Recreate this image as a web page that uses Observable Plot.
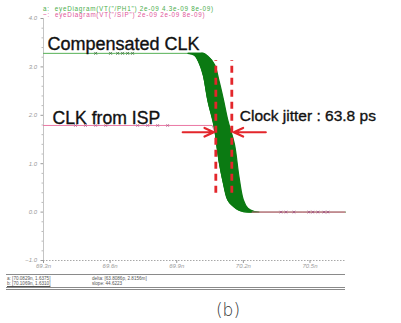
<!DOCTYPE html>
<html><head><meta charset="utf-8">
<script src="https://cdn.jsdelivr.net/npm/d3@7"></script>
<script src="https://cdn.jsdelivr.net/npm/@observablehq/plot@0.6"></script>
<style>
body{margin:0;background:#fff;font-family:"Liberation Sans",Arial,sans-serif;}
#wrap{position:relative;width:401px;height:323px;overflow:hidden;background:#fff;}
#chart{position:absolute;left:0;top:0;}
#legend{position:absolute;left:43px;top:6px;font-size:6.3px;letter-spacing:0.75px;line-height:6.2px;white-space:pre;}
#footer{position:absolute;left:6px;top:274px;width:339px;height:12px;border-top:1px solid #8a8a8a;border-bottom:3px double #8a8a8a;font-size:4.6px;line-height:5px;color:#555;}
#footer .c1{position:absolute;left:1px;width:58px;}
#footer .c2{position:absolute;left:86px;}
#cap{position:absolute;left:0;top:300px;width:456px;text-align:center;font-size:17px;color:#333;font-family:"DejaVu Sans","Liberation Sans",sans-serif;font-weight:300;}
</style></head>
<body>
<div id="wrap">
  <div id="chart"></div>
  <div id="legend"></div>
  <div id="footer"></div>
  <div id="cap"></div>
</div>
<script>
// ---- axis setup ----
const xDomain = [69.3, 70.66];
const yDomain = [-1, 4];
const xTicks = [69.3, 69.6, 69.9, 70.2, 70.5];
const xTickLabels = ["69.3n", "69.6n", "69.9n", "70.2n", "70.5n"];
const yTicks = [-1, 0, 1, 2, 3, 4];
const yTickLabels = ["\u22121.0", "0.0", "1.0", "2.0", "3.0", "4.0"];
const yMinorTicks = [-0.8,-0.6,-0.4,-0.2,0.2,0.4,0.6,0.8,1.2,1.4,1.6,1.8,2.2,2.4,2.6,2.8,3.2,3.4,3.6,3.8];

// ---- eye diagram band ----
const bandT     = [69.95, 69.98, 70.00, 70.02, 70.04, 70.07, 70.09, 70.11, 70.13, 70.16, 70.18, 70.20, 70.22, 70.25, 70.27];
const bandEarly = [3.28, 3.24, 3.09, 2.82, 2.31, 1.73, 1.07, 0.60, 0.25, 0.10, 0.04, 0.01, 0, 0, 0];
const bandLate  = [3.28, 3.28, 3.28, 3.28, 3.22, 3.05, 2.72, 2.33, 1.90, 1.40, 0.74, 0.25, 0.08, 0.01, 0];

// compensated CLK (green) flat level
const greenStartT = 69.3, greenEndT = 70.66;
const greenHigh = 3.28, greenLow = 0;
const greenMarkT = [69.535, 69.602, 69.634, 69.656, 69.679, 69.701];

// CLK from ISP (pink)
const pinkT = [69.3, 70.06, 70.10, 70.14, 70.18, 70.22, 70.66];
const pinkV = [1.79, 1.79, 1.30, 0.70, 0.20, 0, 0];
const pinkMarkHighT = [69.444, 69.489, 69.535, 69.580, 69.724, 69.769, 69.814, 69.859];
const pinkMarkLowT  = [70.369, 70.392, 70.428, 70.495, 70.513, 70.536, 70.563, 70.581];

// jitter annotation
const jitterT = [70.076, 70.148];
const jitterV = [0.39, 3.13];
const arrowV = 1.65;
const arrowLeft  = [69.927, 70.067];
const arrowRight = [70.301, 70.157];

// labels
const labelText = ["Compensated CLK", "CLK from ISP"];
const labelT = [69.318, 69.341];
const labelV = [3.46, 1.94];
const labelSize = [18, 17.6];
const jitterLabel = ["Clock jitter : 63.8 ps"];
const jitterLabelT = [70.184];
const jitterLabelV = [1.99];

// legend / footer / caption text
const legendLines = [
  {text: "a:  eyeDiagram(VT(\"/PH1\") 2e-09 4.3e-09 8e-09)", color: "#4cae4c"},
  {text: "~:  eyeDiagram(VT(\"/SIP\") 2e-09 2e-09 8e-09)", color: "#e0559a"}
];
const footerCol1 = ["a: [70.0829n, 1.6375]", "b: [70.1069n, 1.6310]"];
const footerCol2 = ["delta: [63.8086p, 2.8156m]", "slope: 44.6223"];
const caption = "(b)";

// ---- build tables ----
const band = bandT.map((t, i) => ({t, lo: bandEarly[i], hi: bandLate[i]}));
const bandPoly = [
  ...band.map(d => ({t: d.t, v: d.lo})),
  ...band.slice().reverse().map(d => ({t: d.t, v: d.hi}))
];
const greenLine = [{t: greenStartT, v: greenHigh}, ...band.map(d => ({t: d.t, v: d.lo})), {t: greenEndT, v: greenLow}];
const pinkLine = pinkT.map((t, i) => ({t, v: pinkV[i]}));
const labels = labelText.map((s, i) => ({s, t: labelT[i], v: labelV[i], size: labelSize[i]}));
const jl = jitterLabel.map((s, i) => ({s, t: jitterLabelT[i], v: jitterLabelV[i]}));
const arrows = [
  {x1: arrowLeft[0], x2: arrowLeft[1], y: arrowV},
  {x1: arrowRight[0], x2: arrowRight[1], y: arrowV}
];
const red = "#e3262b";
const dark = "#0b7a12";

const plot = Plot.plot({
  width: 401,
  height: 292,
  marginLeft: 43,
  marginRight: 56,
  marginTop: 18,
  marginBottom: 32,
  style: {fontFamily: "Liberation Sans, Arial, sans-serif", background: "transparent", overflow: "visible"},
  x: {domain: xDomain},
  y: {domain: yDomain},
  marks: [
    // axis lines
    Plot.ruleX([xDomain[0]], {y1: yDomain[0], y2: yDomain[1], stroke: "#c4c4c4", strokeWidth: 1}),
    Plot.ruleY([yDomain[0]], {x1: xDomain[0], x2: xDomain[1], stroke: "#a8a8a8", strokeDasharray: "1.5,1.5"}),
    Plot.axisY({ticks: yMinorTicks, tickSize: 1.5, text: null, color: "#bbb"}),
    Plot.axisY({ticks: yTicks, tickFormat: d => yTickLabels[yTicks.indexOf(d)], tickSize: 2.5, tickPadding: 4,
                fontSize: 6, color: "#9a9a9a", fontStyle: "italic"}),
    Plot.axisX({ticks: xTicks, tickFormat: d => xTickLabels[xTicks.indexOf(d)], tickSize: 3, tickPadding: 0,
                fontSize: 6, color: "#9a9a9a", fontStyle: "italic"}),
    // traces
    Plot.line(pinkLine, {x: "t", y: "v", stroke: "#e86a9a", strokeWidth: 0.9}),
    Plot.line(greenLine, {x: "t", y: "v", stroke: "#55b055", strokeWidth: 1, curve: "monotone-x"}),
    Plot.areaY(band, {x: "t", y1: "lo", y2: "hi", fill: dark, curve: "monotone-x"}),
    Plot.line(bandPoly, {x: "t", y: "v", fill: dark, stroke: dark, strokeWidth: 1.2, curve: "catmull-rom"}),
    Plot.ruleY([0], {x1: 70.24, x2: xDomain[1], stroke: "#e86a9a", strokeWidth: 0.9}),
    // markers
    Plot.dot(greenMarkT, {x: d => d, y: greenHigh, symbol: "times", r: 1.4, stroke: "#3f6f3f", strokeWidth: 0.8}),
    Plot.dot(pinkMarkHighT, {x: d => d, y: pinkV[0], symbol: "times", r: 1.3, stroke: "#b0608a", strokeWidth: 0.8}),
    Plot.dot(pinkMarkLowT, {x: d => d, y: 0, symbol: "times", r: 1.3, stroke: "#a05080", strokeWidth: 0.8}),
    // jitter markers
    Plot.ruleX(jitterT, {y1: jitterV[0], y2: jitterV[1], stroke: red, strokeWidth: 2.8, strokeDasharray: "7,5"}),
    Plot.arrow(arrows, {x1: "x1", x2: "x2", y1: "y", y2: "y", stroke: red, strokeWidth: 2.2, headLength: 7, headAngle: 50}),
    // texts
    Plot.text(labels, {x: "t", y: "v", text: "s", textAnchor: "start", fontSize: d => d.size, fill: "#111", stroke: "#111", strokeWidth: 0.35}),
    Plot.text(jl, {x: "t", y: "v", text: "s", textAnchor: "start", fontSize: 15.5, fill: "#111", stroke: "#111", strokeWidth: 0.35})
  ]
});
document.getElementById("chart").appendChild(plot);

// legend
const lg = document.getElementById("legend");
legendLines.forEach(l => {
  const d = document.createElement("div");
  d.textContent = l.text; d.style.color = l.color;
  lg.appendChild(d);
});
// footer
const ft = document.getElementById("footer");
footerCol1.forEach((s, i) => {
  const d = document.createElement("div");
  d.className = "c1"; d.textContent = s; d.style.top = (1 + i * 5) + "px";
  if (i === 1) d.style.textDecoration = "underline";
  ft.appendChild(d);
});
footerCol2.forEach((s, i) => {
  const d = document.createElement("div");
  d.className = "c2"; d.textContent = s; d.style.top = (1 + i * 5) + "px";
  ft.appendChild(d);
});
document.getElementById("cap").textContent = caption;
</script>
</body></html>
